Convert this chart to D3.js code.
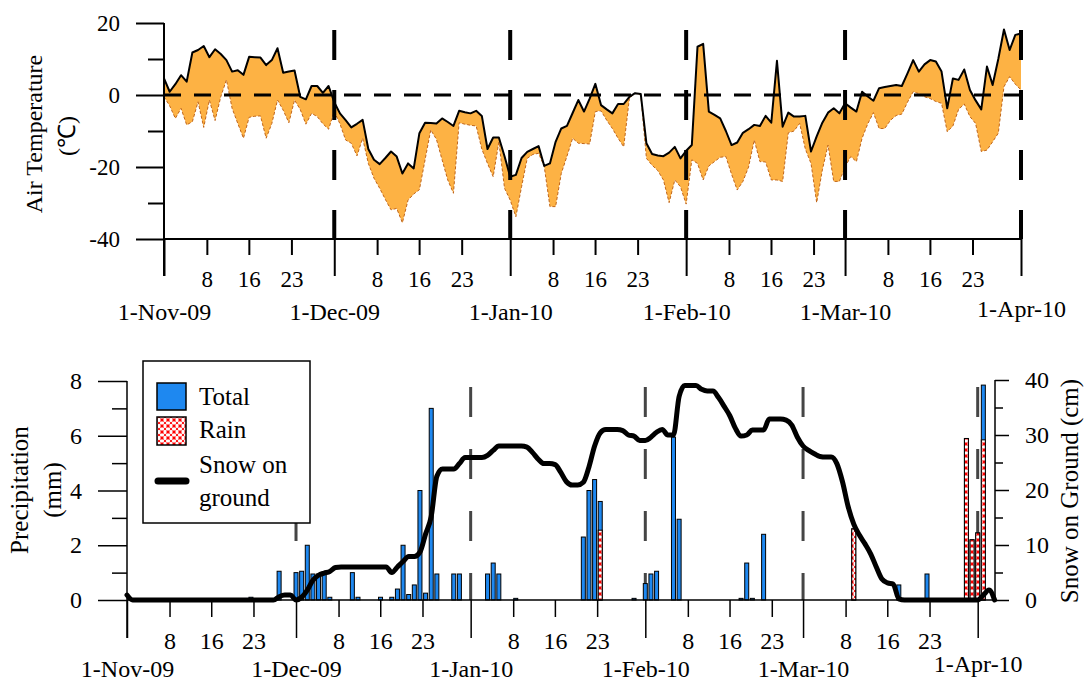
<!DOCTYPE html>
<html><head><meta charset="utf-8">
<script src="https://cdn.jsdelivr.net/npm/d3@7"></script>
<style>
body{margin:0;background:#fff}
svg{display:block}
text{font-family:"Liberation Serif","Times New Roman",serif;fill:#000}
</style>
</head><body>
<svg id="c" width="1085" height="683"></svg>
<script>
// ---------------- data ----------------
const monthLabels = ["1-Nov-09","1-Dec-09","1-Jan-10","1-Feb-10","1-Mar-10","1-Apr-10"];
const monthDays = [0,30,61,92,120,151];           // days since 1-Nov-09
const minorOffsets = [7.55,14.95,22.45];
const minorLabels = ["8","16","23"];
const tempTicks = [-40,-20,0,20];
const tempMinorTicks = [-30,-10,10];
const precipTicks = [0,2,4,6,8];
const precipMinorTicks = [1,3,5,7];
const snowTicks = [0,10,20,30,40];
const snowMinorTicks = [5,15,25,35];

// daily max / min air temperature (°C), 1-Nov-09 .. 1-Apr-10
const tempMax = [4.6,0.9,3,5.5,3.7,11.8,12.5,13.6,10.5,12.7,
 11.4,9.7,6.5,6.9,5.6,10.6,10.5,10.4,8.3,9.7,
 13,6.2,6.5,6.8,-0.5,-1.2,2.5,2.5,0.6,2.5,
 -2,-5.1,-7,-9,-8,-6.9,-15,-18,-19.2,-17.5,
 -15.7,-17.1,-21.8,-19,-20.4,-10.6,-7.7,-7.8,-7.9,-6.5,
 -7.5,-8.6,-4.4,-4.8,-5.1,-4.4,-5.8,-15,-11.8,-11.8,
 -17,-22.7,-22.2,-17.5,-15.8,-15,-14.2,-19.7,-19,-13,
 -9.3,-8.6,-5,-1.4,-4.6,-1,3.1,-2.8,-4,-5.1,
 -2.5,-2.5,-0.5,0.5,0.3,-13.4,-16.4,-16.8,-17,-16,
 -14.4,-17.6,-15.5,-13.9,13.4,14.2,-4.6,-5.5,-6.5,-10,
 -13.9,-13.2,-10.5,-9.5,-8.3,-8.6,-5.8,-7.7,9.5,-8.8,
 -4.9,-6,-6,-5.8,-15.7,-11.5,-7.7,-4.9,-3.7,-5.1,
 -2.3,-3.5,-4.6,0.9,-0.4,-1.6,1.9,2.2,2.5,2.8,
 2.5,6,9.7,6.5,8.5,9.7,9.3,6.5,-3.7,4.6,
 4.2,7.1,1.4,-1.5,-4,7.9,2.8,10,18.2,12.5,
 16.7,17.1];
const tempMin = [-0.5,-3,-6.5,-3.7,-8.3,-7.4,-1.9,-9,-1.4,-7.1,
 -0.5,4.2,-3.7,-7.9,-12,-6.2,-5.9,-5.8,-12,-7.9,
 -1.4,-4.2,-7.7,-1.4,-4,-8.1,-5.1,-6,-8,-9.5,
 -4.6,-8,-12.5,-13.4,-16.9,-12,-19,-23.1,-25.9,-29,
 -31.9,-31.5,-35.5,-29.2,-27.5,-26.3,-18,-9.7,-12.3,-18,
 -23.6,-27.3,-7.7,-8.1,-8.4,-8.6,-15,-19,-22.7,-13,
 -25.9,-29.2,-33.8,-25.5,-17.6,-16.5,-16.2,-19.9,-31,-31,
 -21.8,-17,-12,-13.4,-13.5,-13.6,-4.6,-4.4,-7,-9.3,
 -12,-14.4,-0.9,0.5,0,-17.6,-19.5,-21,-23.6,-29.9,
 -23.6,-25.5,-30.3,-18,-19,-23.6,-19.7,-18.5,-17.3,-17.1,
 -22,-26.4,-24,-20,-12.5,-18.5,-18.6,-23.6,-23.6,-24,
 -10.5,-10,-7.9,-15,-19,-29.9,-20.8,-13.9,-24,-24,
 -20,-17.1,-18.5,-12,-8,-4.9,-9.3,-9.3,-7,-5.7,
 -5.3,-2,0.9,0.4,-0.5,-1,-1.8,-2.3,-10.2,-8.6,
 -4,-2.5,-6,-7.9,-15.7,-15.3,-13,-10.6,2.3,5.1,
 3,1.4];

// precipitation (mm)
const precipDays = [22,27,30,31,32,33,34,35,36,40,41,45,47,48,49,50,51,52,53,54,55,
 58,59,64,65,66,69,81,82,83,84,90,92,93,94,97,98,109,110,111,113,129,137,142,149,150,151,152];
const precipTotal = [0.1,1.05,1.0,1.05,2.0,0.95,0.95,0.95,0.1,1.0,0.1,0.1,0.1,0.4,2.0,0.2,0.55,4.0,0.25,7.0,0.95,
 0.95,0.95,0.95,1.35,0.95,0.06,2.3,4.0,4.4,3.6,0.06,0.6,0.95,1.05,5.95,2.95,0.06,1.35,0.06,2.4,2.6,0.55,0.95,5.9,2.2,2.45,7.85];
const rainDays = [84,129,149,150,151,152];
const rainAmount = [2.55,2.6,5.9,2.2,2.45,5.85];

// snow on ground (cm), daily from 1-Nov-09
const snowDepth = [0.9,0,0,0,0,0,0,0,0,0,
 0,0,0,0,0,0,0,0,0,0,
 0,0,0,0,0,0,0,0.6,0.9,0.9,
 0,0.5,1.8,3.6,4.5,4.9,5.2,5.9,6,6,
 6,6,6,6,6,6,6,5,6,7,
 7.9,7.9,8.7,12,15.2,22.5,23.8,23.8,23.8,24.8,
 25.9,25.9,25.9,25.9,26.3,27.2,28,28,28,28,
 28,27.8,26.8,25.6,24.8,24.8,24.6,23.2,21.5,20.9,
 20.9,21.4,24.2,28,30.4,31,31,31,30.8,30,
 29.8,29,29,29.6,30.5,31,30,30,37,39,
 39,39,38.3,38,38,36.8,35.2,33.5,31.2,29.8,
 30,30.9,30.9,30.9,32.9,32.9,32.9,32.7,31.8,29.6,
 28,27.2,26.6,26.1,26,26,24.8,21.5,17,13.8,
 11.8,10.2,8.4,6,3.8,3.1,2.9,0.2,0,0,
 0,0,0,0,0,0,0,0,0,0,
 0,0,0.9,1.8,0];

// ---------------- drawing ----------------
const svg = d3.select("#c");
const FONT = "'Liberation Serif','Times New Roman',serif";
const minorDays = monthDays.slice(0,5).flatMap(m => minorOffsets.map(o => m + o));
const plain = d => String(d);

const defs = svg.append("defs");
const pat = defs.append("pattern").attr("id","rain").attr("patternUnits","userSpaceOnUse")
  .attr("width",6).attr("height",6);
pat.append("rect").attr("width",6).attr("height",6).attr("fill","#fff");
pat.append("path").attr("d","M0,0L6,6M6,0L0,6").attr("stroke","#f00")
  .attr("stroke-width",1.4).attr("stroke-dasharray","2.2,1").attr("fill","none");

function styleAxis(g, size, sw){
  g.select(".domain").remove();
  g.selectAll("line").attr("stroke","#000").attr("stroke-width",sw);
  g.selectAll("text").attr("font-family",FONT).attr("font-size",size).attr("fill","#000");
}

// ===== top chart =====
const xT = d3.scaleLinear().domain([0,151]).range([164,1021]);
const yT = d3.scaleLinear().domain([-40,20]).range([239,23]);
const topG = svg.append("g");

topG.append("path").datum(tempMax)
  .attr("d", d3.area().x((d,i)=>xT(i)).y0((d,i)=>yT(tempMin[i])).y1(d=>yT(d)))
  .attr("fill","#fdb244");
topG.append("path").datum(tempMin)
  .attr("d", d3.line().x((d,i)=>xT(i)).y(d=>yT(d)))
  .attr("fill","none").attr("stroke","#c0651a").attr("stroke-width",1).attr("stroke-dasharray","3,2");
topG.append("path").datum(tempMax)
  .attr("d", d3.line().x((d,i)=>xT(i)).y(d=>yT(d)))
  .attr("fill","none").attr("stroke","#000").attr("stroke-width",2).attr("stroke-linejoin","round");

topG.append("line").attr("x1",xT(0)).attr("x2",xT(151)).attr("y1",yT(0)).attr("y2",yT(0))
  .attr("stroke","#000").attr("stroke-width",3).attr("stroke-dasharray","17,13");
topG.selectAll(".vd").data(monthDays.slice(1)).join("line")
  .attr("x1",d=>xT(d)).attr("x2",d=>xT(d)).attr("y1",30).attr("y2",yT(-40))
  .attr("stroke","#000").attr("stroke-width",4).attr("stroke-dasharray","30,30");

// axes
const gyT = topG.append("g").attr("transform",`translate(${xT(0)},0)`)
  .call(d3.axisLeft(yT).tickValues(tempTicks).tickSize(28).tickPadding(16).tickFormat(plain));
styleAxis(gyT,23,2);
const gyT2 = topG.append("g").attr("transform",`translate(${xT(0)},0)`)
  .call(d3.axisLeft(yT).tickValues(tempMinorTicks).tickSize(16).tickFormat(""));
styleAxis(gyT2,23,2);
topG.append("line").attr("x1",xT(0)).attr("x2",xT(0)).attr("y1",yT(20)).attr("y2",276)
  .attr("stroke","#000").attr("stroke-width",2);
topG.append("line").attr("x1",xT(0)).attr("x2",xT(151)).attr("y1",yT(-40)).attr("y2",yT(-40))
  .attr("stroke","#000").attr("stroke-width",2);
const gxT = topG.append("g").attr("transform",`translate(0,${yT(-40)})`)
  .call(d3.axisBottom(xT).tickValues(monthDays).tickSize(37).tickPadding(27).tickFormat((d,i)=>monthLabels[i]));
styleAxis(gxT,24,2);
gxT.selectAll("text").filter((d,i)=>i===5).attr("y",61);
const gxT2 = topG.append("g").attr("transform",`translate(0,${yT(-40)})`)
  .call(d3.axisBottom(xT).tickValues(minorDays).tickSize(16).tickPadding(16).tickFormat((d,i)=>minorLabels[i%3]));
styleAxis(gxT2,23,2);

topG.append("text").attr("transform","translate(42,134) rotate(-90)").attr("text-anchor","middle")
  .attr("font-size",24).text("Air Temperature");
topG.append("text").attr("transform","translate(75,136) rotate(-90)").attr("text-anchor","middle")
  .attr("font-size",24).text("(℃)");

// ===== bottom chart =====
const xB = d3.scaleLinear().domain([0,151]).range([127,977.7]);
const yP = d3.scaleLinear().domain([0,8]).range([600,381]);
const yS = d3.scaleLinear().domain([0,40]).range([600,380]);
const botG = svg.append("g");

botG.selectAll(".gd").data(monthDays.slice(1)).join("line")
  .attr("x1",d=>xB(d)).attr("x2",d=>xB(d)).attr("y1",387).attr("y2",yP(0))
  .attr("stroke","#454545").attr("stroke-width",3).attr("stroke-dasharray","30,32");

const bw = 4;
botG.selectAll(".pt").data(precipDays).join("rect")
  .attr("x",d=>xB(d)-bw/2).attr("width",bw)
  .attr("y",(d,i)=>yP(precipTotal[i])).attr("height",(d,i)=>yP(0)-yP(precipTotal[i]))
  .attr("fill","#1e88f0").attr("stroke","#000").attr("stroke-width",1);
botG.selectAll(".pr").data(rainDays).join("rect")
  .attr("x",d=>xB(d)-bw/2).attr("width",bw)
  .attr("y",(d,i)=>yP(rainAmount[i])).attr("height",(d,i)=>yP(0)-yP(rainAmount[i]))
  .attr("fill","url(#rain)").attr("stroke","#000").attr("stroke-width",1);

botG.append("path").datum(snowDepth)
  .attr("d", d3.line().x((d,i)=>xB(i)).y(d=>yS(d)).curve(d3.curveMonotoneX))
  .attr("fill","none").attr("stroke","#000").attr("stroke-width",5)
  .attr("stroke-linejoin","round").attr("stroke-linecap","round");

// axes
botG.append("line").attr("x1",xB(0)).attr("x2",995).attr("y1",yP(0)).attr("y2",yP(0))
  .attr("stroke","#000").attr("stroke-width",1.5);
botG.append("line").attr("x1",xB(0)).attr("x2",xB(0)).attr("y1",yP(8)).attr("y2",638)
  .attr("stroke","#000").attr("stroke-width",1.5);
botG.append("line").attr("x1",995).attr("x2",995).attr("y1",yS(40)).attr("y2",yS(0))
  .attr("stroke","#000").attr("stroke-width",1.5);
const gyP = botG.append("g").attr("transform",`translate(${xB(0)},0)`)
  .call(d3.axisLeft(yP).tickValues(precipTicks).tickSize(29).tickPadding(16).tickFormat(plain));
styleAxis(gyP,24,1.5);
const gyP2 = botG.append("g").attr("transform",`translate(${xB(0)},0)`)
  .call(d3.axisLeft(yP).tickValues(precipMinorTicks).tickSize(15).tickFormat(""));
styleAxis(gyP2,24,1.5);
const gyS = botG.append("g").attr("transform","translate(995,0)")
  .call(d3.axisRight(yS).tickValues(snowTicks).tickSize(14).tickPadding(16).tickFormat(plain));
styleAxis(gyS,24,1.5);
const gyS2 = botG.append("g").attr("transform","translate(995,0)")
  .call(d3.axisRight(yS).tickValues(snowMinorTicks).tickSize(8).tickFormat(""));
styleAxis(gyS2,24,1.5);
const gxB = botG.append("g").attr("transform",`translate(0,${yP(0)})`)
  .call(d3.axisBottom(xB).tickValues(monthDays).tickSize(38).tickPadding(22).tickFormat((d,i)=>monthLabels[i]));
styleAxis(gxB,24,1.5);
gxB.selectAll("text").filter((d,i)=>i===5).attr("y",55);
const gxB2 = botG.append("g").attr("transform",`translate(0,${yP(0)})`)
  .call(d3.axisBottom(xB).tickValues(minorDays).tickSize(17).tickPadding(15).tickFormat((d,i)=>minorLabels[i%3]));
styleAxis(gxB2,24,1.5);

botG.append("text").attr("transform","translate(28,490) rotate(-90)").attr("text-anchor","middle")
  .attr("font-size",25).text("Precipitation");
botG.append("text").attr("transform","translate(61,490) rotate(-90)").attr("text-anchor","middle")
  .attr("font-size",25).text("(mm)");
botG.append("text").attr("transform","translate(1078,491) rotate(-90)").attr("text-anchor","middle")
  .attr("font-size",25).text("Snow on Ground (cm)");

// legend
const lg = botG.append("g");
lg.append("rect").attr("x",143).attr("y",361).attr("width",167).attr("height",162)
  .attr("fill","#fff").attr("stroke","#000").attr("stroke-width",1.5);
lg.append("rect").attr("x",157).attr("y",383).attr("width",29).attr("height",27)
  .attr("fill","#1e88f0").attr("stroke","#000").attr("stroke-width",1.5);
lg.append("rect").attr("x",157).attr("y",417).attr("width",29).attr("height",28)
  .attr("fill","url(#rain)").attr("stroke","#000").attr("stroke-width",1.5);
lg.append("line").attr("x1",158).attr("x2",186).attr("y1",481).attr("y2",481)
  .attr("stroke","#000").attr("stroke-width",7).attr("stroke-linecap","round");
[["Total",405],["Rain",438],["Snow on",473],["ground",506]].forEach(([t,y])=>{
  lg.append("text").attr("x",199).attr("y",y).attr("font-size",25).text(t);
});
</script>
</body></html>
